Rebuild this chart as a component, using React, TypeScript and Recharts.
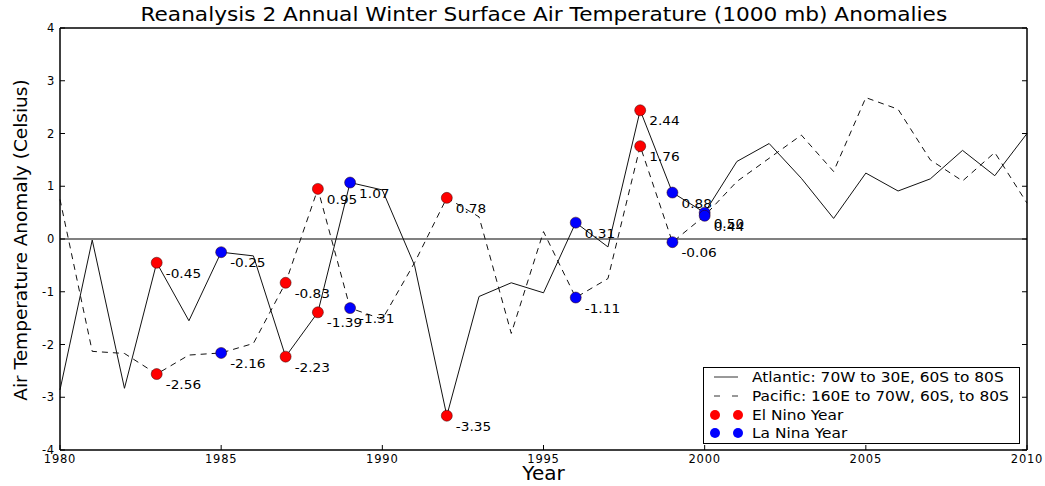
import React from "react";
import {
  ComposedChart, Line, Scatter, XAxis, YAxis, ReferenceLine,
} from "recharts";

// annual winter anomalies
const years = [
  1980, 1981, 1982, 1983, 1984, 1985, 1986, 1987, 1988, 1989,
  1990, 1991, 1992, 1993, 1994, 1995, 1996, 1997, 1998, 1999,
  2000, 2001, 2002, 2003, 2004, 2005, 2006, 2007, 2008, 2009, 2010,
];
const atlantic = [
  -2.86, -0.02, -2.83, -0.45, -1.55, -0.25, -0.32, -2.23, -1.39, 1.07,
  0.93, -0.5, -3.35, -1.09, -0.83, -1.02, 0.31, -0.15, 2.44, 0.88,
  0.5, 1.47, 1.81, 1.15, 0.39, 1.25, 0.91, 1.14, 1.68, 1.2, 2.0,
];
const pacific = [
  0.75, -2.13, -2.17, -2.56, -2.2, -2.16, -1.98, -0.83, 0.95, -1.31,
  -1.52, -0.45, 0.78, 0.42, -1.79, 0.14, -1.11, -0.75, 1.76, -0.06,
  0.44, 1.09, 1.53, 1.97, 1.28, 2.68, 2.46, 1.5, 1.1, 1.64, 0.68,
];
const elNinoYears = [1983, 1987, 1988, 1992, 1998];
const laNinaYears = [1985, 1989, 1996, 1999, 2000];

const xTicks = [1980, 1985, 1990, 1995, 2000, 2005, 2010];
const yTicks = [-4, -3, -2, -1, 0, 1, 2, 3, 4];

const rows = years.map((year, i) => ({ year, atl: atlantic[i], pac: pacific[i] }));

const pointsFor = (list: number[]) =>
  list.flatMap((y) => {
    const i = years.indexOf(y);
    return [
      { year: y, v: atlantic[i] },
      { year: y, v: pacific[i] },
    ];
  });

const elNinoPts = pointsFor(elNinoYears);
const laNinaPts = pointsFor(laNinaYears);

const FONT = "'DejaVu Sans', sans-serif";

const dotShape = (fill: string) => (props: any) => {
  const { cx, cy, payload } = props;
  return (
    <g>
      <circle cx={cx} cy={cy} r={5.5} fill={fill} stroke="#300" strokeWidth={0.5} />
      <text transform={`translate(${cx + 9},${cy + 15}) scale(1.14,1)`} fontSize={12} fontFamily={FONT} fill="#000">
        {payload.v.toFixed(2)}
      </text>
    </g>
  );
};

const blank = () => "";
const tickFont = { fontSize: 11.5, fill: "#000", fontFamily: FONT, letterSpacing: 0.8 };
const frame = { stroke: "#000", strokeWidth: 1.5 };

export default function App() {
  return (
    <div style={{ position: "absolute", left: 0, top: 0, width: 1045, height: 486, background: "#fff", fontFamily: FONT }}>
      <div style={{ position: "absolute", left: 0, width: 1087, top: 3, textAlign: "center", color: "#000" }}>
        <span style={{ display: "inline-block", fontSize: 19, transform: "scaleX(1.14)", whiteSpace: "nowrap" }}>
          Reanalysis 2 Annual Winter Surface Air Temperature (1000 mb) Anomalies
        </span>
      </div>
      <div style={{ position: "absolute", left: 20, top: 240, transform: "translate(-50%, -50%) rotate(-90deg)", whiteSpace: "nowrap", fontSize: 18.5, color: "#000" }}>
        Air Temperature Anomaly (Celsius)
      </div>
      <div style={{ position: "absolute", left: 0, width: 1087, top: 461, textAlign: "center", fontSize: 20, color: "#000" }}>
        Year
      </div>

      <ComposedChart width={1045} height={486} data={rows} margin={{ top: 27, right: 17, bottom: 0, left: 0 }}>
        <XAxis dataKey="year" type="number" domain={[1980, 2010]} ticks={xTicks} height={36}
          tickSize={-5} tickMargin={10} axisLine={frame} tickLine={{ stroke: "#000" }} tick={tickFont} />
        <XAxis xAxisId="top" orientation="top" type="number" domain={[1980, 2010]} ticks={xTicks} height={1}
          tickSize={-5} tickFormatter={blank} axisLine={frame} tickLine={{ stroke: "#000" }} allowDataOverflow />
        <YAxis type="number" domain={[-4, 4]} ticks={yTicks} width={60} tickSize={-5} tickMargin={10}
          axisLine={frame} tickLine={{ stroke: "#000" }} tick={tickFont} />
        <YAxis yAxisId="right" orientation="right" type="number" domain={[-4, 4]} ticks={yTicks} width={1}
          tickSize={-5} tickFormatter={blank} axisLine={frame} tickLine={{ stroke: "#000" }} allowDataOverflow />

        <ReferenceLine y={0} stroke="#808080" strokeWidth={2} />

        <Line dataKey="atl" stroke="#111" strokeWidth={1} dot={false} isAnimationActive={false} />
        <Line dataKey="pac" stroke="#111" strokeWidth={1} strokeDasharray="6 5" dot={false} isAnimationActive={false} />

        <Scatter data={elNinoPts} dataKey="v" shape={dotShape("#ff0000")} isAnimationActive={false} />
        <Scatter data={laNinaPts} dataKey="v" shape={dotShape("#0000ff")} isAnimationActive={false} />
      </ComposedChart>

      <div style={{ position: "absolute", left: 703, top: 367, width: 315, height: 75, border: "1.5px solid #000", background: "#fff", fontSize: 13.5, color: "#000" }}>
        {[
          { kind: "solid", text: "Atlantic: 70W to 30E, 60S to 80S" },
          { kind: "dash", text: "Pacific: 160E to 70W, 60S, to 80S" },
          { kind: "red", text: "El Nino Year" },
          { kind: "blue", text: "La Nina Year" },
        ].map((it) => (
          <div key={it.text} style={{ display: "flex", alignItems: "center", height: 18.7 }}>
            <svg width={48} height={18} style={{ flex: "none" }}>
              {it.kind === "solid" && <line x1={10} x2={34} y1={9} y2={9} stroke="#333" strokeWidth={1} />}
              {it.kind === "dash" && <line x1={10} x2={34} y1={9} y2={9} stroke="#333" strokeWidth={1} strokeDasharray="6 12" />}
              {it.kind === "red" && <><circle cx={11} cy={9} r={5} fill="#ff0000" /><circle cx={34} cy={9} r={5} fill="#ff0000" /></>}
              {it.kind === "blue" && <><circle cx={11} cy={9} r={5} fill="#0000ff" /><circle cx={34} cy={9} r={5} fill="#0000ff" /></>}
            </svg>
            <span style={{ whiteSpace: "nowrap", display: "inline-block", transform: "scaleX(1.14)", transformOrigin: "left center" }}>{it.text}</span>
          </div>
        ))}
      </div>
    </div>
  );
}
